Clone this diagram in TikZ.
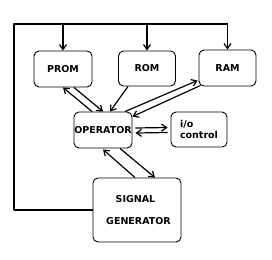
\documentclass[tikz,border=0pt]{standalone}
\usepackage{fontspec}
\setmainfont{DejaVu Sans}
\usetikzlibrary{arrows.meta}

\begin{document}
\begin{tikzpicture}[x=1pt,y=-1pt,>={Straight Barb[length=5pt,width=7pt]},line join=round,
	every node/.style={font=\fontsize{9.5}{11}\selectfont\bfseries},
	unit/.style={draw,line width=0.9pt,rounded corners=5pt,inner sep=0pt},
	link/.style={->,line width=1.2pt},
	bus/.style={line width=2pt}]
	\useasboundingbox (0,0) rectangle (272,259);
	% memories
	\node[unit,minimum width=58pt,minimum height=36pt] (prom) at (63,69) {PROM};
	\node[unit,minimum width=57pt,minimum height=35pt] (rom) at (147,68.5) {ROM};
	\node[unit,minimum width=57pt,minimum height=36pt] (ram) at (227.5,68) {RAM};
	% operator and periphery
	\node[unit,minimum width=58pt,minimum height=36pt] (op) at (103,130) {OPERATOR};
	\node[unit,minimum width=56pt,minimum height=35pt,align=left] (io) at (199,129.5) {i/o\\control};
	\node[unit,minimum width=88pt,minimum height=64pt,align=center] (sig) at (137,210) {\hspace*{-3pt}SIGNAL\\[11pt]\hspace*{3pt}GENERATOR};
	% bus
	\coordinate (corner) at (14,24);
	\draw[bus] (sig.west) -| (corner) -- (ram.north |- corner);
	\foreach \n in {prom,rom,ram}
		\draw[link] (\n.north |- corner) -- (\n.north);
	% links
	\draw[link] ([xshift=-11pt]op.north) -- (prom.south);
	\draw[link] ([xshift=11pt]prom.south) -- (op.north);
	\draw[link] ([xshift=-19pt]rom.south) -- ([xshift=7pt]op.north);
	\draw[link] ([xshift=22pt]op.north) -- ([xshift=-1pt,yshift=6pt]ram.south west);
	\draw[link] ([xshift=2pt,yshift=1pt]ram.south west) -- ([yshift=-5pt]op.north east);
	\draw[link] ([xshift=3pt,yshift=2pt]op.east) -- ([xshift=-3pt,yshift=2pt]io.west);
	\draw[link] ([xshift=-3pt,yshift=-3pt]io.west) -- ([xshift=3pt,yshift=-3pt]op.east);
	\draw[link] ([xshift=17pt]op.south) -- ([xshift=18pt]sig.north);
	\draw[link] ([xshift=-2pt]sig.north) -- ([yshift=-1pt]op.south);
\end{tikzpicture}
\end{document}
